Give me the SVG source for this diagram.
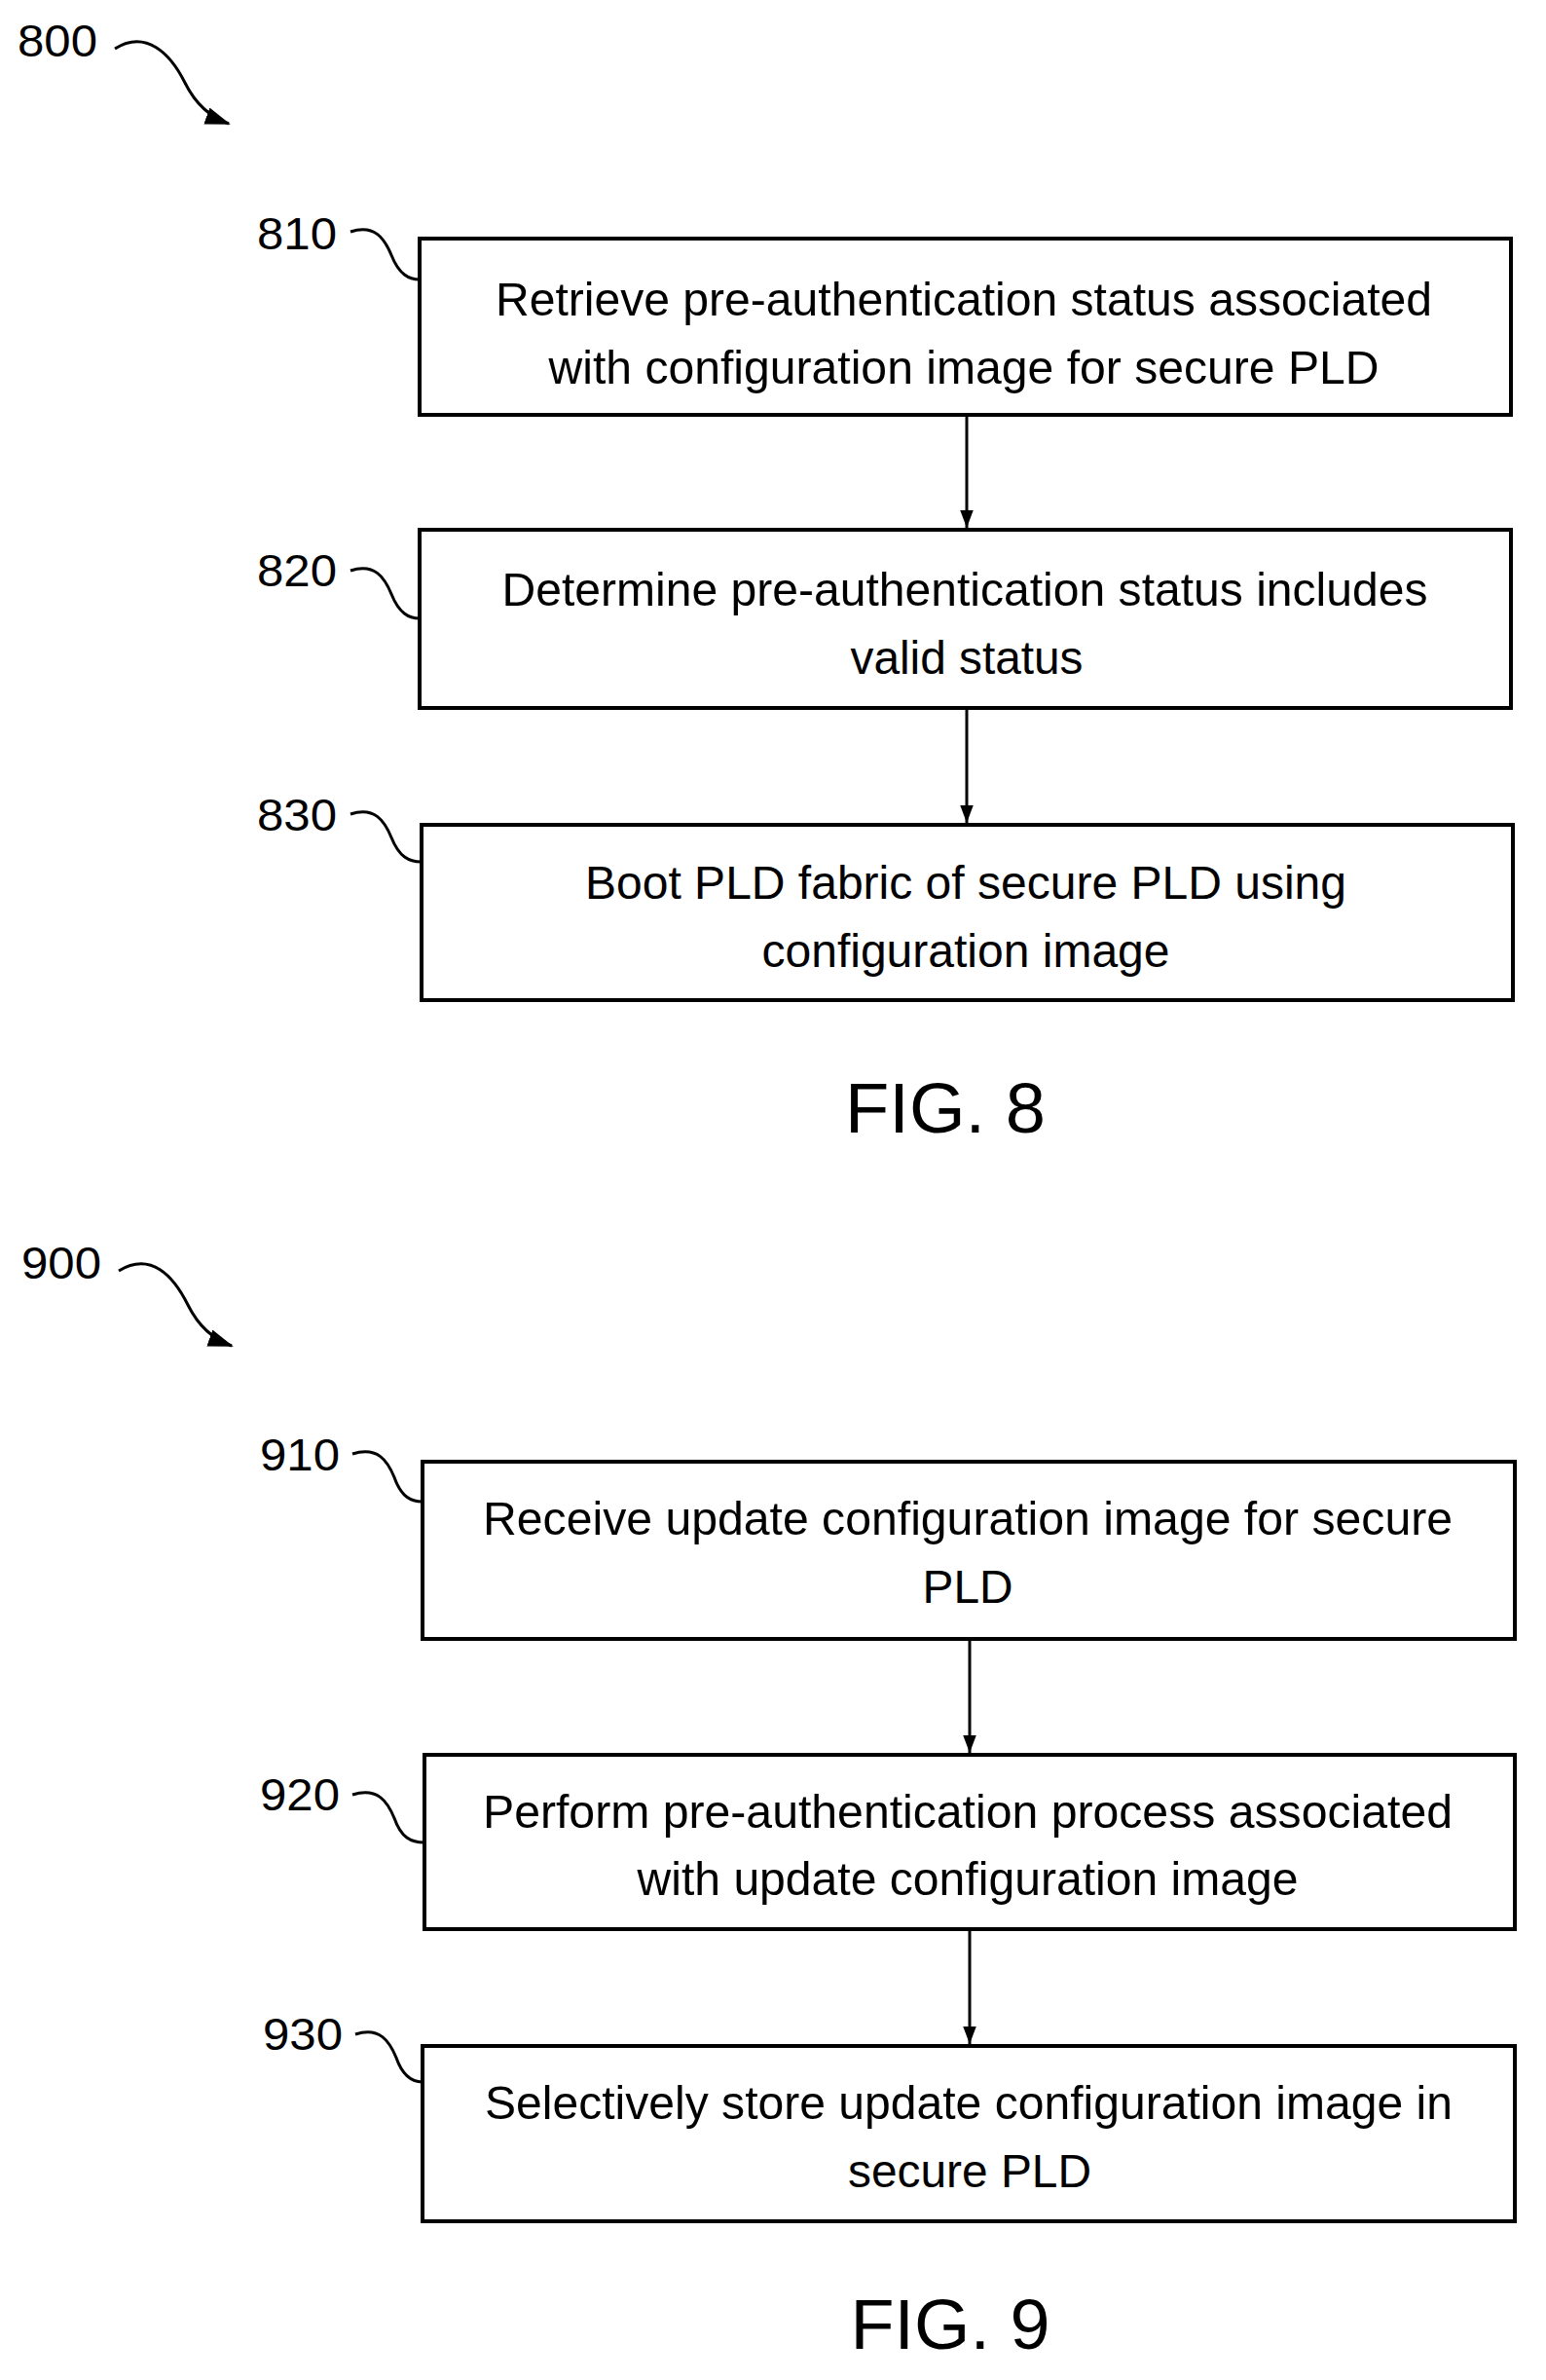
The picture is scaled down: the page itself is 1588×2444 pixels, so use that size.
<svg xmlns="http://www.w3.org/2000/svg" width="1588" height="2444" viewBox="0 0 1588 2444">
<style>
.box{fill:#fff;stroke:#000;stroke-width:4}
.t{font-family:"Liberation Sans",Arial,sans-serif;font-size:48px;text-anchor:middle}
.lb{font-family:"Liberation Sans",Arial,sans-serif;font-size:46px}
.fig{font-family:"Liberation Sans",Arial,sans-serif;font-size:72px;text-anchor:middle}
.ln{fill:none;stroke:#000;stroke-width:3}
</style>
<defs>
<marker id="ah" markerWidth="18" markerHeight="24" refX="24" refY="9" orient="auto" markerUnits="userSpaceOnUse" viewBox="0 0 24 18"><path d="M0,0 L24,9 L0,18 z" fill="#000"/></marker>
<marker id="ah2" markerWidth="26" markerHeight="18" refX="24" refY="9" orient="auto" markerUnits="userSpaceOnUse"><path d="M0,0 L26,9 L0,18 z" fill="#000"/></marker>
</defs>
<rect width="1588" height="2444" fill="#fff"/>
<g id="fig8label"><text class="lb" x="18" y="58" textLength="82" lengthAdjust="spacingAndGlyphs">800</text><path class="ln" marker-end="url(#ah2)" d="M118 50 C150 30,175 55,190 85 C200 105,215 120,235 127"/></g>
<g id="n810"><rect class="box" x="431" y="245" width="1121" height="181"/>
<text class="t" x="990" y="324" textLength="962" lengthAdjust="spacingAndGlyphs">Retrieve pre-authentication status associated</text>
<text class="t" x="990" y="394" textLength="853" lengthAdjust="spacingAndGlyphs">with configuration image for secure PLD</text>
<text class="lb" x="264" y="256" textLength="82" lengthAdjust="spacingAndGlyphs">810</text><path class="ln" d="M360 238 C385 230,395 245,402 262 C410 282,420 287,431 287"/></g>
<g id="n820"><rect class="box" x="431" y="544" width="1121" height="183"/>
<text class="t" x="991" y="622" textLength="951" lengthAdjust="spacingAndGlyphs">Determine pre-authentication status includes</text>
<text class="t" x="993" y="692" textLength="239" lengthAdjust="spacingAndGlyphs">valid status</text>
<text class="lb" x="264" y="602" textLength="82" lengthAdjust="spacingAndGlyphs">820</text><path class="ln" d="M360 586 C385 578,395 593,402 610 C410 630,420 635,431 635"/></g>
<g id="n830"><rect class="box" x="433" y="847" width="1121" height="180"/>
<text class="t" x="992" y="923" textLength="782" lengthAdjust="spacingAndGlyphs">Boot PLD fabric of secure PLD using</text>
<text class="t" x="992" y="993" textLength="419" lengthAdjust="spacingAndGlyphs">configuration image</text>
<text class="lb" x="264" y="853" textLength="82" lengthAdjust="spacingAndGlyphs">830</text><path class="ln" d="M360 836 C385 828,395 843,402 860 C410 880,420 885,433 885"/></g>
<text class="fig" x="971" y="1163" textLength="206" lengthAdjust="spacingAndGlyphs">FIG. 8</text>
<g id="fig9label"><text class="lb" x="22" y="1313" textLength="82" lengthAdjust="spacingAndGlyphs">900</text><path class="ln" marker-end="url(#ah2)" d="M122 1305 C155 1285,178 1310,193 1340 C203 1360,218 1375,238 1382"/></g>
<g id="n910"><rect class="box" x="434" y="1501" width="1122" height="182"/>
<text class="t" x="994" y="1576" textLength="996" lengthAdjust="spacingAndGlyphs">Receive update configuration image for secure</text>
<text class="t" x="994" y="1646" textLength="93" lengthAdjust="spacingAndGlyphs">PLD</text>
<text class="lb" x="267" y="1510" textLength="82" lengthAdjust="spacingAndGlyphs">910</text><path class="ln" d="M362 1493 C388 1485,398 1500,405 1517 C412 1537,422 1542,434 1542"/></g>
<g id="n920"><rect class="box" x="436" y="1802" width="1120" height="179"/>
<text class="t" x="994" y="1877" textLength="996" lengthAdjust="spacingAndGlyphs">Perform pre-authentication process associated</text>
<text class="t" x="994" y="1946" textLength="679" lengthAdjust="spacingAndGlyphs">with update configuration image</text>
<text class="lb" x="267" y="1859" textLength="82" lengthAdjust="spacingAndGlyphs">920</text><path class="ln" d="M362 1843 C388 1835,398 1850,405 1867 C412 1887,422 1892,436 1892"/></g>
<g id="n930"><rect class="box" x="434" y="2101" width="1122" height="180"/>
<text class="t" x="995" y="2176" textLength="994" lengthAdjust="spacingAndGlyphs">Selectively store update configuration image in</text>
<text class="t" x="996" y="2246" textLength="250" lengthAdjust="spacingAndGlyphs">secure PLD</text>
<text class="lb" x="270" y="2105" textLength="82" lengthAdjust="spacingAndGlyphs">930</text><path class="ln" d="M365 2089 C390 2081,400 2096,407 2113 C414 2133,424 2138,434 2138"/></g>
<text class="fig" x="976" y="2412" textLength="205" lengthAdjust="spacingAndGlyphs">FIG. 9</text>
<g id="connectors">
<line class="ln" x1="993" y1="426" x2="993" y2="542" marker-end="url(#ah)"/>
<line class="ln" x1="993" y1="727" x2="993" y2="845" marker-end="url(#ah)"/>
<line class="ln" x1="996" y1="1683" x2="996" y2="1800" marker-end="url(#ah)"/>
<line class="ln" x1="996" y1="1981" x2="996" y2="2099" marker-end="url(#ah)"/>
</g>
</svg>
